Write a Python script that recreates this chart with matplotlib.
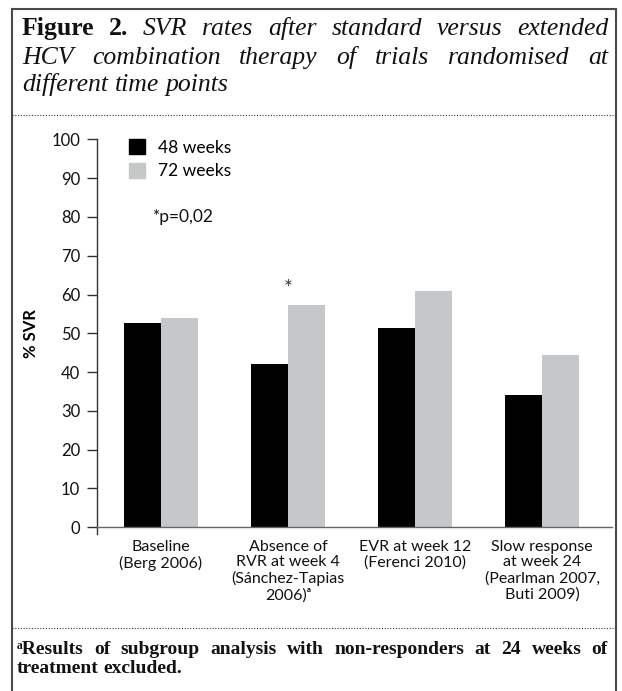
import matplotlib
matplotlib.use("Agg")
import matplotlib.pyplot as plt
import numpy as np
from matplotlib.lines import Line2D
from matplotlib.patches import Patch

# data
categories = ["Baseline\n(Berg 2006)",
              "Absence of\nRVR at week 4\n(Sánchez-Tapias\n2006)ᵃ",
              "EVR at week 12\n(Ferenci 2010)",
              "Slow response\nat week 24\n(Pearlman 2007,\nButi 2009)"]
weeks48 = [52.6, 42.1, 51.4, 34.1]
weeks72 = [53.9, 57.3, 60.9, 44.4]
yticks = [0, 10, 20, 30, 40, 50, 60, 70, 80, 90, 100]
series_names = ["48 weeks", "72 weeks"]

BLACK = "#000000"
GREY = "#c6c7c9"
FRAME = "#4a4a4a"
SANS = ["Lato", "DejaVu Sans"]
SERIF = ["Liberation Serif", "DejaVu Serif"]

W, H = 622, 691
fig = plt.figure(figsize=(W / 100, H / 100), dpi=100)


def fx(px):
    return px / W


def fy(py):
    return 1 - py / H


# outer frame and dotted separators
for xs, ys in [([12, 12], [9, 691]), ([616, 616], [9, 691]), ([12, 616], [9, 9])]:
    fig.add_artist(Line2D([fx(x) for x in xs], [fy(y) for y in ys],
                          color=FRAME, lw=1.5, transform=fig.transFigure))
for y in [115, 628]:
    fig.add_artist(Line2D([fx(12), fx(616)], [fy(y), fy(y)], color="#333333",
                          lw=0.8, ls=(0, (1, 1.5)), transform=fig.transFigure))

renderer = fig.canvas.get_renderer()


def justify_line(words, y, x0=22, x1=608, stretch=True):
    """words: list of (text, dict of text kwargs); placed on baseline y (px)"""
    texts = []
    for w, kw in words:
        t = fig.text(fx(x0), fy(y), w, va="baseline", ha="left", **kw)
        texts.append(t)
    widths = [t.get_window_extent(renderer).width for t in texts]
    if stretch and len(texts) > 1:
        gap = (x1 - x0 - sum(widths)) / (len(texts) - 1)
    else:
        gap = renderer.points_to_pixels(texts[0].get_fontsize()) * 0.25
    x = x0
    for t, wd in zip(texts, widths):
        t.set_x(fx(x))
        x += wd + gap


tb = dict(family=SERIF, fontsize=18.5, fontweight="bold", color="#111111")
ti = dict(family=SERIF, fontsize=18.5, style="italic", color="#111111")
line1 = [("Figure", tb), ("2.", tb)] + [(w, ti) for w in "SVR rates after standard versus extended".split()]
line2 = [(w, ti) for w in "HCV combination therapy of trials randomised at".split()]
line3 = [(w, ti) for w in "different time points".split()]
justify_line(line1, 35)
justify_line(line2, 64)
justify_line(line3, 91, stretch=False)

fb = dict(family=SERIF, fontsize=14, fontweight="bold", color="#111111")
foot1 = [("ᵃResults", fb)] + [(w, fb) for w in "of subgroup analysis with non-responders at 24 weeks of".split()]
foot2 = [(w, fb) for w in "treatment excluded.".split()]
justify_line(foot1, 654, x0=17)
justify_line(foot2, 673, x0=17, stretch=False)

# chart
ax = fig.add_axes([fx(97), fy(527.3), fx(612) - fx(97), fy(139.3) - fy(527.3)])
x = np.arange(len(categories))
bw = 0.291
ax.bar(x - bw / 2, weeks48, bw, color=BLACK, label=series_names[0])
ax.bar(x + bw / 2, weeks72, bw, color=GREY, label=series_names[1])

ax.set_xlim(-0.504, 3.55)
ax.set_ylim(0, 100)
ax.set_yticks(yticks)
ax.set_yticklabels([str(v) for v in yticks], family=SANS, fontsize=12, color="#111111")
ax.set_xticks(x)
ax.set_xticklabels(categories, family=SANS, fontsize=11.5, color="#111111", linespacing=1.15)
ax.tick_params(axis="x", length=0, pad=9)
ax.tick_params(axis="y", direction="out", length=7, width=1.0, color="#333333", pad=5)
for s in ["top", "right"]:
    ax.spines[s].set_visible(False)
ax.spines["left"].set_color("#333333")
ax.spines["bottom"].set_color("#666666")
ax.spines["left"].set_linewidth(1.0)
ax.spines["bottom"].set_linewidth(1.0)
# small stub of y-axis below zero
ax.plot([0, 0], [-0.018, 0], transform=ax.transAxes, color="#333333", lw=1.0, clip_on=False)

ax.set_ylabel("% SVR", family=SANS, fontsize=12, fontweight="bold", labelpad=9)

ax.legend(handles=[Patch(color=BLACK, label=series_names[0]), Patch(color=GREY, label=series_names[1])],
          loc="upper left", bbox_to_anchor=(0.045, 1.022), frameon=False,
          handlelength=0.95, handleheight=0.95, handletextpad=0.7, labelspacing=0.4,
          borderpad=0, prop=dict(family=SANS, size=12.5))

ax.text(-0.063, 80, "*p=0,02", family=SANS, fontsize=12.5, va="center", ha="left", color="#111111")
ax.text(1, 61.5, "*", family=SANS, fontsize=15, va="center", ha="center", color="#333333")

fig.savefig("out.png", dpi=100)
